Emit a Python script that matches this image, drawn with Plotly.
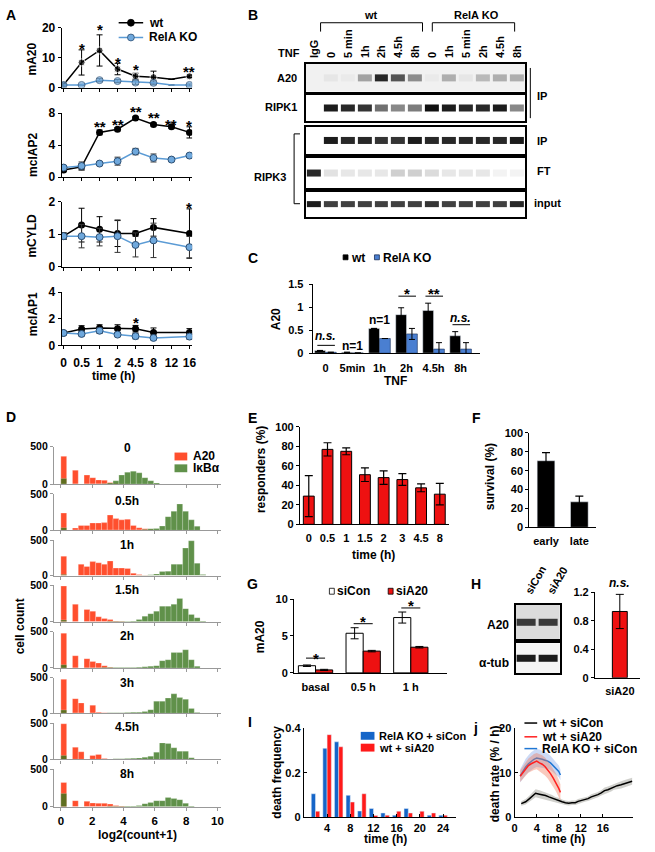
import plotly.graph_objects as go

W, H = 655, 852
FAM = "Liberation Sans, Arial, sans-serif"

# ---------------- A: mRNA time courses ----------------
a_time = ["0", "0.5", "1", "2", "4.5", "8", "12", "16"]
mA20_wt = [1.0, 8.4, 12.4, 6.2, 3.8, 3.5, 2.8, 3.8]
mA20_wt_err = [0.2, 4.2, 5.2, 1.9, 1.0, 2.0, 0.0, 0.4]
mA20_ko = [0.9, 0.9, 2.5, 2.2, 1.7, 1.6, 0.9, 0.9]
mA20_ko_err = [0.1, 0.2, 0.5, 0.5, 0.6, 0.6, 0.0, 0.3]
mcIAP2_wt = [0.9, 1.3, 5.6, 6.0, 7.4, 6.6, 6.3, 5.6]
mcIAP2_wt_err = [0.2, 0.4, 0.3, 0.2, 0.15, 0.2, 0.2, 0.7]
mcIAP2_ko = [1.2, 1.4, 1.7, 2.0, 3.2, 2.4, 2.2, 2.7]
mcIAP2_ko_err = [0.2, 0.5, 0.2, 0.5, 0.4, 0.5, 0.2, 0.15]
mCYLD_wt = [0.94, 1.28, 1.15, 1.02, 1.02, 1.21, None, 1.02]
mCYLD_wt_err = [0.1, 0.52, 0.39, 0.4, 0.08, 0.27, None, 0.76]
mCYLD_ko = [0.94, 0.94, 0.91, 0.94, 0.67, 0.81, None, 0.6]
mCYLD_ko_err = [0.1, 0.36, 0.27, 0.5, 0.37, 0.53, None, 0.33]
mcIAP1_wt = [0.93, 1.23, 1.3, 1.25, 1.25, 0.96, None, 0.96]
mcIAP1_wt_err = [0.1, 0.25, 0.25, 0.3, 0.25, 0.35, None, 0.3]
mcIAP1_ko = [0.93, 0.86, 1.1, 0.81, 0.69, 0.56, None, 0.66]
mcIAP1_ko_err = [0.1, 0.15, 0.2, 0.15, 0.2, 0.15, None, 0.2]

# ---------------- B: blots, band intensity per lane ----------------
b_lanes = ["IgG", "0", "5 min", "1h", "2h", "4.5h", "8h", "0", "1h", "5 min", "2h", "4.5h", "8h"]
b_a20 = [0, 0.05, 0.03, 0.35, 0.9, 0.7, 0.45, 0.03, 0.3, 0.05, 0.25, 0.3, 0.3]
b_ripk1 = [0, 0.95, 0.9, 0.85, 0.6, 0.5, 0.55, 1.0, 0.95, 0.9, 0.9, 0.95, 0.5]
b_ripk3_ip = [0, 0.95, 0.9, 0.9, 0.85, 0.85, 0.95, 0.9, 0.9, 0.9, 0.9, 0.9, 0.95]
b_ripk3_ft = [0.9, 0.12, 0.1, 0.1, 0.1, 0.2, 0.2, 0.15, 0.1, 0.1, 0.1, 0.05, 0.05]
b_ripk3_input = [0.95, 0.8, 0.8, 0.8, 0.8, 0.8, 0.8, 0.85, 0.8, 0.8, 0.8, 0.8, 0.9]

# ---------------- C: A20 quantification ----------------
c_time = ["0", "5min", "1h", "2h", "4.5h", "8h"]
c_wt = [0.06, 0.02, 0.54, 0.84, 0.93, 0.38]
c_wt_err = [0, 0, 0, 0.15, 0.16, 0.09]
c_ko = [0.02, 0.005, 0.32, 0.42, 0.09, 0.09]
c_ko_err = [0, 0, 0, 0.12, 0.14, 0.14]

# ---------------- D: smFISH histograms (27 bins over 0-10) ----------------
d_panels = ["0", "0.5h", "1h", "1.5h", "2h", "3h", "4.5h", "8h"]
d_a20 = [
    [370, 0, 185, 0, 120, 85, 55, 50, 20, 10, 5],
    [236, 0, 30, 65, 65, 100, 100, 105, 209, 160, 143, 152, 65, 35, 20, 10],
    [273, 0, 0, 160, 127, 196, 180, 160, 205, 105, 105, 100, 32, 15, 5],
    [490, 0, 240, 0, 168, 145, 68, 45, 30, 10, 5],
    [478, 0, 168, 0, 127, 90, 68, 32, 10],
    [478, 0, 205, 145, 0, 114, 14, 5],
    [490, 0, 168, 105, 0, 55, 68, 14],
    [323, 0, 80, 0, 71, 49, 44, 44, 35, 15, 10],
]
d_ikba = [
    [75, 0, 0, 0, 0, 0, 0, 5, 15, 43, 120, 158, 171, 150, 85, 43, 13],
    [36, 0, 0, 0, 0, 0, 0, 0, 0, 0, 0, 0, 0, 5, 10, 20, 25, 57, 187, 260, 361, 260, 143, 55, 5],
    [15, 0, 0, 0, 0, 0, 0, 0, 0, 0, 0, 0, 0, 5, 5, 10, 20, 55, 60, 160, 160, 387, 490, 173, 15],
    [25, 0, 0, 0, 0, 0, 0, 0, 5, 5, 5, 5, 10, 30, 77, 110, 145, 214, 214, 240, 320, 180, 100, 55, 10],
    [45, 0, 0, 0, 0, 0, 0, 5, 5, 5, 5, 5, 5, 10, 15, 25, 32, 100, 113, 214, 214, 250, 113, 23],
    [45, 0, 0, 0, 0, 0, 0, 0, 5, 5, 8, 10, 12, 15, 25, 50, 170, 170, 213, 273, 220, 196, 68, 10],
    [55, 0, 0, 0, 0, 0, 0, 0, 5, 8, 10, 12, 15, 20, 30, 45, 100, 227, 218, 160, 114, 114, 23],
    [177, 0, 0, 0, 0, 0, 0, 0, 5, 5, 5, 8, 10, 15, 40, 57, 80, 80, 124, 110, 93, 44, 10],
]
d_nbins = 27
d_bin_w = 10 / d_nbins

# ---------------- E, F ----------------
e_time = ["0", "0.5", "1", "1.5", "2", "3", "4.5", "8"]
e_resp = [29, 77, 75, 51, 48, 46, 37.5, 31]
e_err = [21, 6.8, 3.5, 7, 7, 6, 4, 11]
f_cat = ["early", "late"]
f_surv = [70.5, 27]
f_err = [8.5, 6]

# ---------------- G, H ----------------
g_cat = ["basal", "0.5 h", "1 h"]
g_sicon = [0.97, 5.37, 7.5]
g_sicon_err = [0.1, 0.75, 0.75]
g_sia20 = [0.4, 2.95, 3.48]
g_sia20_err = [0.08, 0.1, 0.1]
h_lanes = ["siCon", "siA20"]
h_a20_band = [0.8, 0.8]
h_tub_band = [0.95, 0.95]
h_ratio = [0.93]
h_ratio_err = [0.24]

# ---------------- I: death time histogram ----------------
i_time = [2, 4, 6, 8, 10, 12, 14, 16, 18, 20, 22, 24]
i_relako = [0.106, 0.309, 0.338, 0.099, 0.029, 0.04, 0.02, 0.01, 0.04, 0.0, 0.01, 0.01]
i_wt_sia20 = [0.028, 0.37, 0.316, 0.069, 0.106, 0.009, 0.01, 0.028, 0.02, 0.028, 0.02, 0.01]

# ---------------- j: death rate ----------------
j_k_t = [1.2, 2.0, 2.7, 3.3, 3.8, 4.5, 5.0, 5.6, 6.2, 6.8, 7.4, 8.0, 8.6, 9.2, 9.8, 10.4, 11.0,
         11.5, 12.1, 12.7, 13.3, 13.9, 14.5, 15.1, 15.7, 16.3, 16.9, 17.5, 18.0, 18.6, 19.3,
         20.1, 20.7, 21.3]
j_k_y = [3.1, 3.5, 4.2, 4.8, 5.4, 5.2, 5.1, 4.9, 4.6, 4.3, 4.0, 3.8, 3.5, 3.3, 3.2, 3.3, 3.3,
         3.6, 3.8, 4.0, 4.2, 4.6, 4.8, 5.1, 5.5, 6.0, 6.2, 6.5, 6.9, 7.1, 7.3, 7.6, 7.8, 8.1]
j_k_sd = [0.5, 0.6, 0.7, 0.8, 0.9, 0.9, 0.8, 0.8, 0.7, 0.7, 0.6, 0.6, 0.5, 0.5, 0.5, 0.5, 0.5,
          0.5, 0.5, 0.5, 0.5, 0.6, 0.6, 0.6, 0.6, 0.7, 0.7, 0.7, 0.7, 0.8, 0.8, 0.8, 0.8, 0.8]
j_r_t = [1.0, 1.5, 2.0, 2.5, 3.0, 3.5, 4.0, 4.5, 5.0, 5.5, 6.0, 6.5, 7.0, 7.5, 8.0, 8.3]
j_r_y = [9.2, 10.0, 10.8, 11.6, 12.0, 12.4, 12.6, 12.2, 11.9, 11.4, 10.7, 9.8, 8.8, 7.8, 6.5, 5.6]
j_r_sd = [1.3, 1.4, 1.5, 1.6, 1.7, 1.8, 1.8, 1.9, 2.0, 2.0, 2.0, 2.0, 2.0, 2.0, 1.9, 1.8]
j_b_t = [1.0, 1.5, 2.0, 2.5, 3.0, 3.5, 4.0, 4.5, 5.0, 5.5, 6.0, 6.5, 7.0, 7.5, 8.0, 8.3]
j_b_y = [9.3, 10.4, 11.3, 12.0, 12.6, 13.0, 13.3, 13.2, 13.0, 12.8, 12.6, 12.2, 11.6, 11.0, 10.3, 9.5]
j_b_sd = [1.5, 1.7, 1.8, 1.9, 2.0, 2.0, 2.0, 2.0, 1.9, 1.8, 1.7, 1.6, 1.5, 1.4, 1.3, 1.2]

# ============================================================
fig = go.Figure()
axes_layout = {}
ann = []
shp = []
n_ax = [0]

AX = dict(showline=True, linecolor="black", linewidth=1.2, ticks="outside", ticklen=3,
          tickwidth=1, tickcolor="black", showgrid=False, zeroline=False, fixedrange=True,
          tickfont=dict(family=FAM, size=11, color="black", weight="bold"))


def axes(x0, x1, y0, y1, xo=None, yo=None):
    # pixel box -> new pair of axes
    n_ax[0] += 1
    s = "" if n_ax[0] == 1 else str(n_ax[0])
    xa = dict(AX, domain=[x0 / W, x1 / W], anchor="y" + s)
    ya = dict(AX, domain=[1 - y1 / H, 1 - y0 / H], anchor="x" + s)
    xa.update(xo or {})
    ya.update(yo or {})
    axes_layout["xaxis" + s] = xa
    axes_layout["yaxis" + s] = ya
    return "x" + s, "y" + s


def txt(x, y, s, size=11, xanchor="center", angle=0, xref="paper"):
    ann.append(dict(x=x / W if xref == "paper" else x, y=1 - y / H, xref=xref, yref="paper",
                    text=s, showarrow=False, xanchor=xanchor, yanchor="middle", textangle=angle,
                    font=dict(family=FAM, size=size, color="black", weight="bold")))


def seg(x0, y0, x1, y1, color="black", width=1, xref="paper"):
    if xref == "paper":
        x0, x1 = x0 / W, x1 / W
    shp.append(dict(type="line", xref=xref, yref="paper", x0=x0, x1=x1,
                    y0=1 - y0 / H, y1=1 - y1 / H, line=dict(color=color, width=width)))


def box(x0, y0, x1, y1, fill, line="black", lw=0.8):
    shp.append(dict(type="rect", xref="paper", yref="paper", x0=x0 / W, x1=x1 / W,
                    y0=1 - y1 / H, y1=1 - y0 / H, fillcolor=fill, line=dict(color=line, width=lw)))


def dot(x, y, r, fill, line):
    shp.append(dict(type="circle", xref="paper", yref="paper", x0=(x - r) / W, x1=(x + r) / W,
                    y0=1 - (y + r) / H, y1=1 - (y - r) / H, fillcolor=fill,
                    line=dict(color=line, width=0.8)))


def blot(xa, ya, bands, bg="#ffffff"):
    shp.append(dict(type="rect", xref=xa + " domain", yref=ya + " domain", x0=0, x1=1, y0=0, y1=1,
                    fillcolor=bg, line=dict(width=0), layer="below"))
    fig.add_trace(go.Heatmap(z=[bands], x=list(range(len(bands))), y=[0],
                             colorscale=[[0, bg], [1, "#101010"]], zmin=0, zmax=1,
                             showscale=False, xgap=3, hoverinfo="skip", xaxis=xa, yaxis=ya))


BLOTAX = dict(showticklabels=False, ticks="", mirror=True, linewidth=1.5)

# ---------------- panel A ----------------
KO_BLUE = "#5b9bd5"
a_x = list(range(len(a_time)))
a_rows = [
    ("mA20", mA20_wt, mA20_wt_err, mA20_ko, mA20_ko_err, [0, 10, 20], 21, 82, 53,
     [(1, "*", 38), (2, "*", 19), (3, "*", 52), (4, "*", 60), (7, "**", 62)],
     [7, 7, 7, 7, 7, 7, 0, 7]),
    ("mcIAP2", mcIAP2_wt, mcIAP2_wt_err, mcIAP2_ko, mcIAP2_ko_err, [0, 4, 8], 108, 173, 150,
     [(2, "**", 117), (3, "**", 115), (4, "**", 102), (5, "**", 108), (6, "**", 115), (7, "*", 116)],
     7),
    ("mCYLD", mCYLD_wt, mCYLD_wt_err, mCYLD_ko, mCYLD_ko_err, [0, 1, 2], 198, 264, 232,
     [(7, "*", 200)], 7),
    ("mcIAP1", mcIAP1_wt, mcIAP1_wt_err, mcIAP1_ko, mcIAP1_ko_err, [0, 2, 4], 290, 344, 312,
     [(4, "*", 317)], 7),
]
for name, wt, wte, ko, koe, yt, top, bot, ymid, stars, msize in a_rows:
    last = name == "mcIAP1"
    xa, ya = axes(60, 193, top, bot,
                  xo=dict(range=[-0.1, 7.15], tickvals=a_x, ticktext=a_time,
                          showticklabels=last, ticklabelstandoff=3,
                          tickfont=dict(family=FAM, size=12, color="black", weight="bold")),
                  yo=dict(range=[0, yt[-1]], tickvals=yt,
                          tickfont=dict(family=FAM, size=12, color="black", weight="bold")))
    fig.add_trace(go.Scatter(x=a_x, y=wt, mode="lines+markers", connectgaps=True,
                             line=dict(color="black", width=1.5),
                             marker=dict(color="black", size=msize),
                             error_y=dict(type="data", array=wte, color="black", thickness=1, width=3),
                             xaxis=xa, yaxis=ya, hoverinfo="skip"))
    fig.add_trace(go.Scatter(x=a_x, y=ko, mode="lines+markers", connectgaps=True,
                             line=dict(color=KO_BLUE, width=1.5),
                             marker=dict(color="#6fa8dc", size=msize, line=dict(color="#2d4f73", width=1)),
                             error_y=dict(type="data", array=koe, color="#333333", thickness=1, width=3),
                             xaxis=xa, yaxis=ya, hoverinfo="skip"))
    txt(30, ymid, name, size=12, angle=-90)
    for i, s, p in stars:
        txt(i, p + 4, s, size=15, xref=xa)
txt(113, 375, "time (h)", size=12)
txt(8, 8, "A", size=14)
seg(118, 16, 143, 16, width=1.5)
dot(130.5, 16, 3.5, "black", "black")
txt(147, 16, "wt", size=12, xanchor="left")
seg(118, 31, 143, 31, color=KO_BLUE, width=1.5)
dot(130.5, 31, 3.5, "#6fa8dc", "#2d4f73")
txt(147, 31, "RelA KO", size=12, xanchor="left")

# ---------------- panel B ----------------
b_x = list(range(len(b_lanes)))
b_rows = [(b_a20, 58, 86, "#f1f1f1"), (b_ripk1, 89, 116, "#ffffff"),
          (b_ripk3_ip, 122, 149, "#ffffff"), (b_ripk3_ft, 154, 184, "#ffffff"),
          (b_ripk3_input, 188, 213, "#ffffff")]
for k, (bands, top, bot, bg) in enumerate(b_rows):
    xo = dict(BLOTAX, range=[-0.5, 12.5])
    if k == 0:
        xo.update(side="top", showticklabels=True, tickvals=b_x, ticktext=b_lanes,
                  tickangle=-90, ticklabelstandoff=2)
    xa, ya = axes(309, 533, top, bot, xo=xo, yo=dict(BLOTAX, range=[-2, 2]))
    blot(xa, ya, bands, bg)
txt(255, 8, "B", size=14)
txt(375, 8, "wt")
txt(483, 8, "RelA KO")
seg(324, 25, 324, 16); seg(324, 16, 428, 16); seg(428, 16, 428, 25)
seg(438, 25, 438, 16); seg(438, 16, 522, 16); seg(522, 16, 522, 25)
txt(292, 47, "TNF")
txt(302, 72, "A20", xanchor="right")
txt(302, 102, "RIPK1", xanchor="right")
txt(291, 173, "RIPK3", xanchor="right")
seg(303, 129, 297, 129); seg(297, 129, 297, 200); seg(297, 200, 303, 200)
seg(538, 62, 538, 113)
txt(543, 90, "IP", xanchor="left")
txt(543, 136, "IP", xanchor="left")
txt(543, 167, "FT", xanchor="left")
txt(540, 199, "input", xanchor="left")

# ---------------- panel C ----------------
c_x = list(range(len(c_time)))
xa, ya = axes(316, 487, 282, 352,
              xo=dict(range=[-0.47, 5.73], tickvals=c_x, ticktext=c_time, ticks="", ticklabelstandoff=4),
              yo=dict(range=[0, 1.5], tickvals=[0, 0.5, 1, 1.5], ticktext=["0", "0.5", "1", "1.5"],
                      ticklabelstandoff=3))
fig.add_trace(go.Bar(x=c_x, y=c_wt, width=0.4, offset=-0.4, marker=dict(color="black"),
                     error_y=dict(type="data", array=c_wt_err, color="black", thickness=1, width=3),
                     xaxis=xa, yaxis=ya, hoverinfo="skip"))
fig.add_trace(go.Bar(x=c_x, y=c_ko, width=0.4, offset=0,
                     marker=dict(color="#4a7fd1", line=dict(color="#1b2f55", width=0.6)),
                     error_y=dict(type="data", array=c_ko_err, color="black", thickness=1, width=3),
                     xaxis=xa, yaxis=ya, hoverinfo="skip"))
for i, s, ptxt, pline, dy in [(0, "<i>n.s.</i>", 335, 344, 0), (3, "*", 287, 294, 4),
                              (4, "**", 287, 294, 4), (5, "<i>n.s.</i>", 316, 323, 0)]:
    txt(i, ptxt + dy, s, size=15 if dy else 12, xref=xa)
    seg(i - 0.3, pline, i + 0.35, pline, xref=xa)
txt(1, 345, "n=1", size=12, xref=xa)
txt(2, 318, "n=1", size=12, xref=xa)
txt(255, 255, "C", size=14)
box(347, 252, 352, 257, "black")
txt(353, 255, "wt", size=12, xanchor="left")
box(379, 252, 384, 257, "#4a7fd1", line="#1b2f55")
txt(386, 255, "RelA KO", size=12, xanchor="left")
txt(278, 317, "A20", size=12, angle=-90)
txt(400, 380, "TNF", size=12)

# ---------------- panel D ----------------
DFONT = dict(family=FAM, size=10.5, color="black", weight="bold")
d_centers = [(i + 0.5) * d_bin_w for i in range(d_nbins)]
d_tops = [447, 495, 542, 588, 635, 682, 728, 775]
d_bots = [485, 532, 578, 625, 672, 718, 765, 813]
d_title_y = [448, 502, 547, 593, 640, 687, 732, 780]
for k, lab in enumerate(d_panels):
    last = k == len(d_panels) - 1
    xa, ya = axes(52, 222, d_tops[k], d_bots[k],
                  xo=dict(range=[-0.44, 10.2], tickvals=[0, 2, 4, 6, 8, 10], showticklabels=last,
                          linecolor="#999999", tickcolor="#999999", ticklabelstandoff=0,
                          tickfont=dict(DFONT, size=11.5)),
                  yo=dict(range=[0, 500], tickvals=[0, 500], linecolor="#999999", tickcolor="#999999",
                          tickfont=DFONT))
    red = d_a20[k] + [0] * (d_nbins - len(d_a20[k]))
    green = d_ikba[k] + [0] * (d_nbins - len(d_ikba[k]))
    fig.add_trace(go.Bar(x=d_centers, y=red, width=d_bin_w, offset=-d_bin_w / 2,
                         marker=dict(color="#ff4f2e", line=dict(color="rgba(255,255,255,0.5)", width=0.5)),
                         xaxis=xa, yaxis=ya, hoverinfo="skip"))
    fig.add_trace(go.Bar(x=d_centers, y=green, width=d_bin_w, offset=-d_bin_w / 2,
                         marker=dict(color="rgba(56,118,29,0.8)", line=dict(color="rgba(255,255,255,0.4)", width=0.5)),
                         xaxis=xa, yaxis=ya, hoverinfo="skip"))
    txt(127, d_title_y[k], lab, size=12)
txt(8, 417, "D", size=14)
box(175, 453, 188, 461, "#ff4f2e", line="#ff4f2e", lw=0)
txt(192, 457, "A20", size=12, xanchor="left")
box(175, 465, 188, 473, "rgba(56,118,29,0.8)", line="rgba(56,118,29,0.8)", lw=0)
txt(192, 469, "IκBα", size=12, xanchor="left")
txt(17, 630, "cell count", size=12, angle=-90)
txt(137, 842, "log2(count+1)", size=12)

# ---------------- panel E ----------------
e_x = list(range(len(e_time)))
xa, ya = axes(303, 455, 427, 526,
              xo=dict(range=[-0.47, 7.49], tickvals=e_x, ticktext=e_time, ticks="", ticklabelstandoff=3),
              yo=dict(range=[0, 100], tickvals=[0, 20, 40, 60, 80, 100]))
fig.add_trace(go.Bar(x=e_x, y=e_resp, width=0.58, offset=-0.29,
                     marker=dict(color="#ee1111", line=dict(color="black", width=1)),
                     error_y=dict(type="data", array=e_err, color="black", thickness=1.2, width=4),
                     xaxis=xa, yaxis=ya, hoverinfo="skip"))
txt(255, 418, "E", size=14)
txt(263, 470, "responders (%)", size=12, angle=-90)
txt(378, 557, "time (h)", size=12)

# ---------------- panel F ----------------
xa, ya = axes(537, 605, 433, 529,
              xo=dict(range=[-0.5, 1.5], tickvals=[0, 1], ticktext=f_cat, ticks="", ticklabelstandoff=3),
              yo=dict(range=[0, 100], tickvals=[0, 20, 40, 60, 80, 100]))
fig.add_trace(go.Bar(x=[0, 1], y=f_surv, width=0.53, offset=-0.265, marker=dict(color="black"),
                     error_y=dict(type="data", array=f_err, color="black", thickness=1.2, width=4),
                     xaxis=xa, yaxis=ya, hoverinfo="skip"))
txt(483, 418, "F", size=14)
txt(497, 478, "survival (%)", size=12, angle=-90)

# ---------------- panel G ----------------
g_x = list(range(len(g_cat)))
xa, ya = axes(297, 453, 602, 677,
              xo=dict(range=[-0.45, 2.76], tickvals=g_x, ticktext=g_cat, ticks="", ticklabelstandoff=4),
              yo=dict(range=[0, 10], tickvals=[0, 5, 10]))
fig.add_trace(go.Bar(x=g_x, y=g_sicon, width=0.36, offset=-0.36,
                     marker=dict(color="white", line=dict(color="black", width=1)),
                     error_y=dict(type="data", array=g_sicon_err, color="black", thickness=1, width=4),
                     xaxis=xa, yaxis=ya, hoverinfo="skip"))
fig.add_trace(go.Bar(x=g_x, y=g_sia20, width=0.36, offset=0,
                     marker=dict(color="#ee1111", line=dict(color="black", width=1)),
                     error_y=dict(type="data", array=g_sia20_err, color="black", thickness=1, width=4),
                     xaxis=xa, yaxis=ya, hoverinfo="skip"))
for i, ps, pl in [(0, 658, 662), (1, 621, 627), (2, 605, 611)]:
    txt(i, ps + 4, "*", size=15, xref=xa)
    seg(i - 0.2, pl, i + 0.2, pl, xref=xa)
txt(255, 587, "G", size=14)
box(333, 591, 338, 597, "white")
txt(339, 594, "siCon", size=12, xanchor="left")
box(393, 591, 398, 597, "#ee1111")
txt(399, 594, "siA20", size=12, xanchor="left")
txt(263, 640, "mA20", size=12, angle=-90)

# ---------------- panel H ----------------
h_x = list(range(len(h_lanes)))
xa, ya = axes(523, 568, 608, 643,
              xo=dict(BLOTAX, range=[-0.5, 1.5], side="top", showticklabels=True, tickvals=h_x,
                      ticktext=h_lanes, tickangle=-60, ticklabelstandoff=1),
              yo=dict(BLOTAX, range=[-2.5, 2.5]))
blot(xa, ya, h_a20_band, "#dcdcdc")
xa, ya = axes(523, 568, 647, 677, xo=dict(BLOTAX, range=[-0.5, 1.5]), yo=dict(BLOTAX, range=[-2.2, 2.2]))
blot(xa, ya, h_tub_band, "#f4f4f4")
txt(518, 628, "A20", size=12, xanchor="right")
txt(518, 667, "α-tub", size=12, xanchor="right")
xa, ya = axes(604, 650, 595, 682,
              xo=dict(range=[-0.55, 0.45], tickvals=[0], ticktext=["siA20"], ticks="", ticklabelstandoff=3),
              yo=dict(range=[0, 1.2], tickvals=[0, 0.4, 0.8, 1.2], ticktext=["0", "0.4", "0.8", "1.2"]))
fig.add_trace(go.Bar(x=[0], y=h_ratio, width=0.33, offset=-0.165,
                     marker=dict(color="#ee1111", line=dict(color="black", width=1)),
                     error_y=dict(type="data", array=h_ratio_err, color="black", thickness=1, width=4),
                     xaxis=xa, yaxis=ya, hoverinfo="skip"))
txt(0, 586, "<i>n.s.</i>", size=12, xref=xa)
txt(483, 587, "H", size=14)

# ---------------- panel I ----------------
IJFONT = dict(family=FAM, size=11, color="black", weight="bold")
xa, ya = axes(307, 462, 733, 824,
              xo=dict(range=[0, 26.2], tickvals=[4, 8, 12, 16, 20, 24], ticks="inside",
                      ticklabelstandoff=0, tickfont=IJFONT),
              yo=dict(range=[0, 0.4], tickvals=[0, 0.2, 0.4], ticktext=["0", "0.2", "0.4"], ticks="inside",
                      tickfont=IJFONT))
fig.add_trace(go.Bar(x=i_time, y=i_relako, width=0.73, offset=-0.73, marker=dict(color="#1565c8"),
                     xaxis=xa, yaxis=ya, hoverinfo="skip"))
fig.add_trace(go.Bar(x=i_time, y=i_wt_sia20, width=0.73, offset=0, marker=dict(color="#ff1a1a"),
                     xaxis=xa, yaxis=ya, hoverinfo="skip"))
txt(252, 727, "I", size=14)
box(365, 737, 379, 745, "#1565c8", line="#1565c8", lw=0)
txt(382, 741, "RelA KO + siCon", size=11, xanchor="left")
box(365, 749, 379, 757, "#ff1a1a", line="#ff1a1a", lw=0)
txt(382, 753, "wt + siA20", size=11, xanchor="left")
txt(280, 778, "death frequency", size=12, angle=-90)
txt(390, 846, "time (h)", size=12)

# ---------------- panel j ----------------
xa, ya = axes(522, 643, 733, 824,
              xo=dict(range=[0, 21.5], tickvals=[0, 4, 8, 12, 16], ticks="inside",
                      ticklabelstandoff=0, tickfont=IJFONT),
              yo=dict(range=[0, 20], tickvals=[0, 10, 20], ticks="inside", tickfont=IJFONT))
for t, y, sd, col, band in [(j_k_t, j_k_y, j_k_sd, "black", "rgba(120,120,110,0.35)"),
                            (j_b_t, j_b_y, j_b_sd, "#1f77d4", "rgba(110,150,230,0.35)"),
                            (j_r_t, j_r_y, j_r_sd, "#ff2020", "rgba(240,120,90,0.4)")]:
    hi = [v + s for v, s in zip(y, sd)]
    lo = [v - s for v, s in zip(y, sd)]
    fig.add_trace(go.Scatter(x=t + t[::-1], y=hi + lo[::-1], fill="toself", fillcolor=band,
                             line=dict(width=0), mode="lines", xaxis=xa, yaxis=ya, hoverinfo="skip"))
    fig.add_trace(go.Scatter(x=t, y=y, mode="lines", line=dict(color=col, width=1.5),
                             xaxis=xa, yaxis=ya, hoverinfo="skip"))
txt(482, 733, "j", size=14)
for yy, col, lab in [(728, "black", "wt + siCon"), (742, "#ff2020", "wt + siA20"),
                     (754, "#1f77d4", "RelA KO + siCon")]:
    seg(532, yy, 545, yy, color=col, width=1.5)
    txt(548, yy, lab, size=12, xanchor="left")
txt(502, 780, "death rate (% / h)", size=12, angle=-90)
txt(572, 846, "time (h)", size=12)

fig.update_layout(width=W, height=H, margin=dict(l=0, r=0, t=0, b=0), autosize=False,
                  paper_bgcolor="white", plot_bgcolor="white", showlegend=False,
                  barmode="overlay", hovermode=False, annotations=ann, shapes=shp,
                  font=dict(family=FAM, color="black"), **axes_layout)
# drop the default page margin so the figure sits at the window's top-left corner
fig.write_html("out.html", config={"displayModeBar": False},
               post_script="document.body.style.margin='0';")
